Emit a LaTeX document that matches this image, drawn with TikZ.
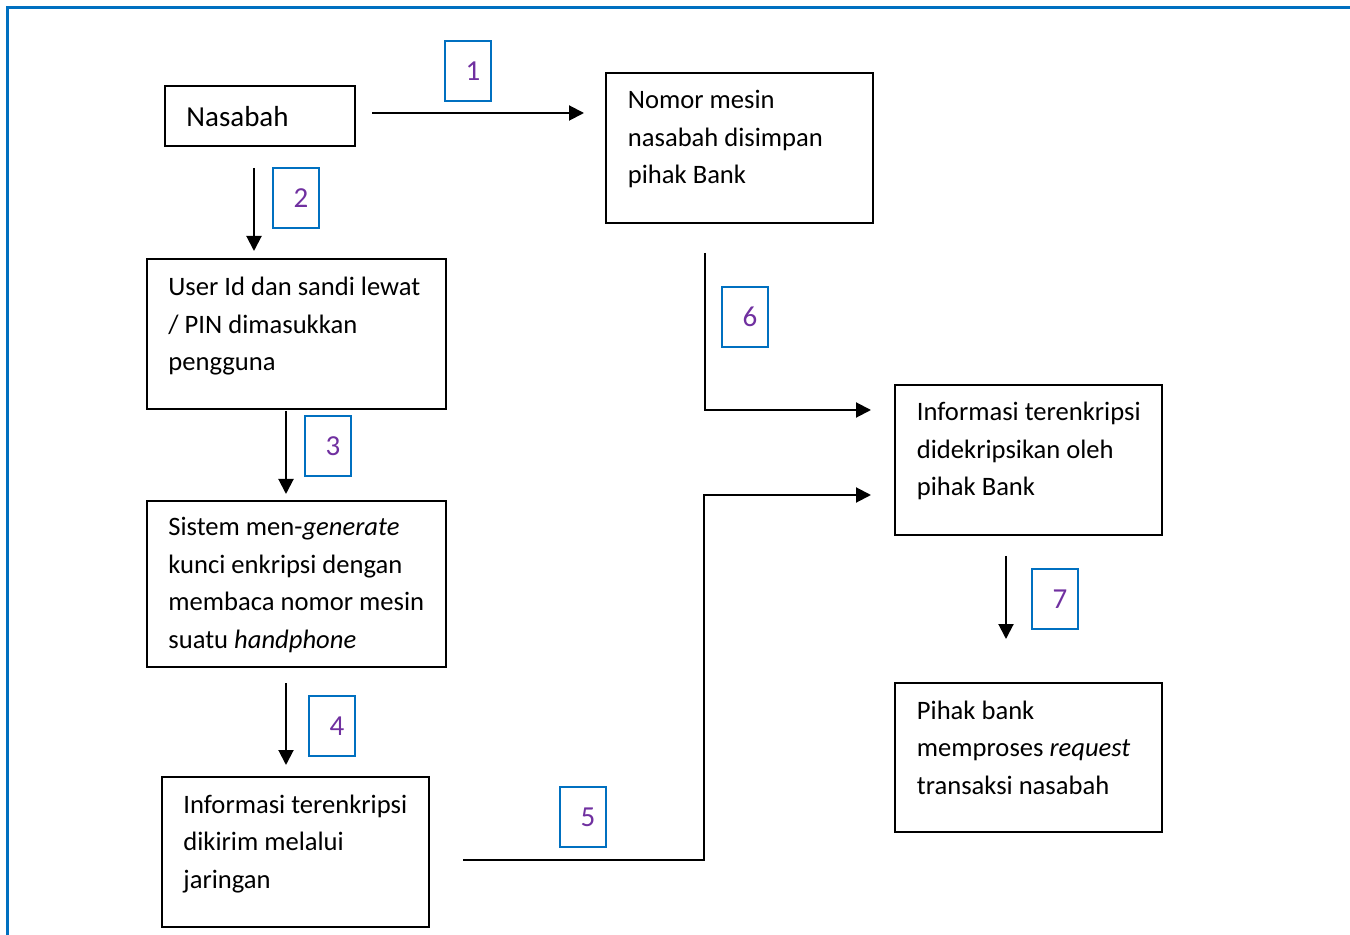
\documentclass[tikz,border=0pt]{standalone}
\usepackage{fontspec}
\setmainfont{Carlito}
\usetikzlibrary{arrows.meta,positioning,calc}
\definecolor{wordblue}{RGB}{0,112,192}
\definecolor{wordpurple}{RGB}{112,48,160}
\begin{document}
\begin{tikzpicture}[x=0.5pt,y=-0.5pt]
	\tikzstyle{frame}=[wordblue,line width=1.5pt]
	\tikzstyle{box}=[draw,line width=1pt,inner sep=0pt]
	\tikzstyle{txt}=[anchor=base west,inner sep=0pt,text width=140pt,align=flush left,font=\fontsize{13.3}{18.75}\selectfont,execute at begin node={\spaceskip=0pt\xspaceskip=0pt}]
	\tikzstyle{num}=[draw=wordblue,line width=0.9pt,text=wordpurple,minimum width=23pt,minimum height=30pt,inner sep=0pt,font=\fontsize{14.5}{18}\selectfont]
	\tikzstyle{flow}=[line width=1pt,-{Triangle[length=7.5pt,width=7.5pt]}]

	\useasboundingbox (0,0) rectangle (1350,935);
	\draw[frame] (7.5,935) -- (7.5,8) -- (1350,8);

	% boxes
	\node[box,minimum width=95pt,minimum height=30pt] (nasabah) at (260,116) {};
	\node[box,minimum width=133.5pt,minimum height=75pt] (nomor) at (739.5,148) {};
	\node[box,minimum width=149.5pt,minimum height=75pt] (userid) at (296.5,334) {};
	\node[box,minimum width=149.5pt,minimum height=83pt] (sistem) at (296.5,584) {};
	\node[box,minimum width=133.5pt,minimum height=75pt] (kirim) at (295.5,852) {};
	\node[box,minimum width=133.5pt,minimum height=75pt] (dekrip) at (1028.5,460) {};
	\node[box,minimum width=133.5pt,minimum height=74.5pt] (proses) at (1028.5,757.5) {};

	% texts
	\node[txt,font=\fontsize{14.5}{18.75}\selectfont] (nasabah-t) at ($(nasabah.north west)+(22,42)$) {Nasabah};
	\node[txt] (nomor-t) at ($(nomor.north west)+(22.5,37)$) {Nomor mesin\\nasabah disimpan\\pihak Bank};
	\node[txt] (userid-t) at ($(userid.north west)+(22,38)$) {User Id dan sandi lewat\\/ PIN dimasukkan\\pengguna};
	\node[txt] (sistem-t) at ($(sistem.north west)+(22,36)$) {Sistem men-\textit{generate}\\kunci enkripsi dengan\\membaca nomor mesin\\suatu \textit{handphone}};
	\node[txt] (kirim-t) at ($(kirim.north west)+(22,37)$) {Informasi terenkripsi\\dikirim melalui\\jaringan};
	\node[txt] (dekrip-t) at ($(dekrip.north west)+(22.5,37)$) {Informasi terenkripsi\\didekripsikan oleh\\pihak Bank};
	\node[txt] (proses-t) at ($(proses.north west)+(22.5,37)$) {Pihak bank\\memproses \textit{request}\\transaksi nasabah};

	% step numbers
	\node[num] (n1) at (468,71) {\hspace*{5pt}1};
	\node[num] (n2) at (296,198) {\hspace*{5pt}2};
	\node[num] (n3) at (328,446) {\hspace*{5pt}3};
	\node[num] (n4) at (332,726) {\hspace*{5pt}4};
	\node[num] (n5) at (583,817) {\hspace*{5pt}5};
	\node[num] (n6) at (745,317) {\hspace*{5pt}6};
	\node[num] (n7) at (1055,599) {\hspace*{5pt}7};

	% arrows
	\draw[flow] ($(nasabah.east)+(16,-3)$) -- ($(nasabah.east -| nomor.west)+(-21,-3)$);
	\draw[flow] ($(nasabah.south)+(-6,21)$) -- ($(nasabah.south |- userid.north)+(-6,-7)$);
	\draw[flow] ($(userid.south)+(-10.5,1)$) -- ($(sistem.north)+(-10.5,-6)$);
	\draw[flow] ($(sistem.south)+(-10.5,15)$) -- ($(sistem.south |- kirim.north)+(-10.5,-11)$);
	\draw[flow] ($(kirim.east)+(33,8)$) -| ($(dekrip.west)+(-190,35)$) -- ($(dekrip.west)+(-23,35)$);
	\draw[flow] ($(nomor.south)+(-34.5,29)$) |- ($(dekrip.west)+(-23,-50)$);
	\draw[flow] ($(dekrip.south)+(-22.5,20)$) -- ($(dekrip.south |- proses.north)+(-22.5,-43)$);
\end{tikzpicture}
\end{document}
